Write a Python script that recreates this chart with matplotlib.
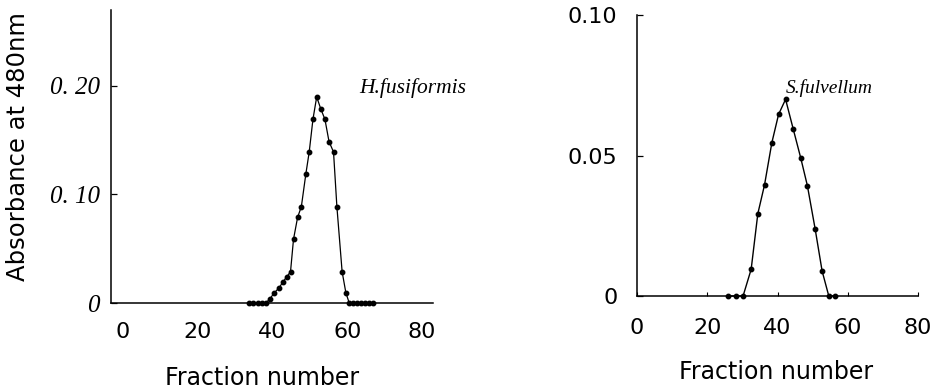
import matplotlib
matplotlib.use("Agg")
import matplotlib.pyplot as plt

# ---- data ----
# H. fusiformis (left panel)
hf_fraction = [33.7, 34.8, 36.1, 37.2, 38.3,
               39.3, 40.5, 41.7, 42.7, 43.8, 44.8, 45.6, 46.7, 47.7, 48.9, 49.8,
               50.8, 51.8, 52.9, 54.0, 55.1, 56.3, 57.2, 58.6, 59.6,
               60.5, 61.5, 62.6, 63.7, 64.7, 65.8, 66.9]
hf_absorbance = [0.0, 0.0, 0.0, 0.0, 0.0,
                 0.004, 0.0095, 0.0138, 0.019, 0.0242, 0.0288, 0.0587, 0.079, 0.0888,
                 0.1189, 0.1392, 0.1693, 0.1899, 0.1788, 0.1693, 0.1487, 0.1392,
                 0.0888, 0.0288, 0.0095,
                 0.0, 0.0, 0.0, 0.0, 0.0, 0.0, 0.0]

# S. fulvellum (right panel)
sf_fraction = [26.0, 28.1, 30.2, 32.5, 34.4, 36.3, 38.4, 40.3, 42.3, 44.5,
               46.6, 48.5, 50.7, 52.7, 54.6, 56.5]
sf_absorbance = [0.0, 0.0, 0.0, 0.0095, 0.0293, 0.0395, 0.0546, 0.0646, 0.070,
                 0.0593, 0.0492, 0.0393, 0.024, 0.0089, 0.0, 0.0]

x_ticks = [0, 20, 40, 60, 80]
x_ticklabels = ["0", "20", "40", "60", "80"]
hf_yticks = [0, 0.10, 0.20]
hf_yticklabels = ["0", "0. 10", "0. 20"]
sf_yticks = [0, 0.05, 0.10]
sf_yticklabels = ["0", "0.05", "0.10"]

W, H = 933, 391
fig = plt.figure(figsize=(W / 100, H / 100), dpi=100)
fig.patch.set_facecolor("white")

def px_axes(x0, y_top, x1, y_bot):
    return fig.add_axes([x0 / W, (H - y_bot) / H, (x1 - x0) / W, (y_bot - y_top) / H])

ax1 = px_axes(111, 10, 433, 303)
ax2 = px_axes(637, 15, 918, 296)

for ax in (ax1, ax2):
    for s in ("top", "right"):
        ax.spines[s].set_visible(False)
    for s in ("left", "bottom"):
        ax.spines[s].set_linewidth(1.1)
        ax.spines[s].set_color("black")
    ax.set_facecolor("white")

# left panel
ax1.plot(hf_fraction, hf_absorbance, color="black", lw=0.9,
         marker="o", ms=3.2, mfc="black", mec="black", clip_on=False)
ax1.set_xlim(-3.2, 82.9)
ax1.set_ylim(0, 0.27)
ax1.set_xticks(x_ticks)
ax1.set_xticklabels(x_ticklabels, fontsize=16, family="DejaVu Sans")
ax1.set_yticks(hf_yticks)
ax1.set_yticklabels(hf_yticklabels, fontsize=18, family="Liberation Serif", style="italic")
ax1.tick_params(axis="x", direction="in", length=0, pad=14)
ax1.tick_params(axis="y", direction="in", length=4, width=0.9, pad=8)
ax1.text(0.77, 0.735, "H.fusiformis", transform=ax1.transAxes, fontsize=15.5,
         family="Liberation Serif", style="italic", ha="left", va="center")

# right panel
ax2.plot(sf_fraction, sf_absorbance, color="black", lw=1.0,
         marker="o", ms=3.2, mfc="black", mec="black", clip_on=False)
ax2.set_xlim(0, 80)
ax2.set_ylim(0, 0.10)
ax2.set_xticks(x_ticks)
ax2.set_xticklabels(x_ticklabels, fontsize=16, family="DejaVu Sans")
ax2.set_yticks(sf_yticks)
ax2.set_yticklabels(sf_yticklabels, fontsize=16, family="DejaVu Sans")
ax2.tick_params(axis="x", direction="in", length=3, width=0.8, pad=16)
ax2.tick_params(axis="y", direction="in", length=4, width=0.9, pad=14)
ax2.text(0.53, 0.74, "S.fulvellum", transform=ax2.transAxes, fontsize=14,
         family="Liberation Serif", style="italic", ha="left", va="center")

# axis titles
fig.text(262 / W, 1 - 378 / H, "Fraction number", fontsize=17, family="DejaVu Sans",
         ha="center", va="center")
fig.text(776 / W, 1 - 372 / H, "Fraction number", fontsize=17, family="DejaVu Sans",
         ha="center", va="center")
fig.text(18 / W, 1 - 147 / H, "Absorbance at 480nm", fontsize=17.5, family="DejaVu Sans",
         rotation=90, ha="center", va="center")

fig.savefig("out.png", dpi=100, facecolor="white")
